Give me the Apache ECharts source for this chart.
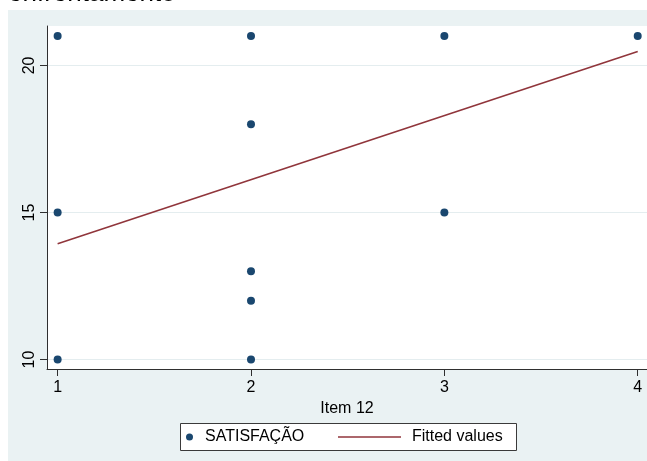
<!DOCTYPE html>
<html>
<head>
<meta charset="utf-8">
<script src="https://cdn.jsdelivr.net/npm/echarts@6/dist/echarts.min.js"></script>
<style>
  html, body { margin: 0; padding: 0; background: #ffffff; }
  #chart { width: 647px; height: 461px; }
</style>
</head>
<body>
<div id="chart"></div>
<script>
// Scatter of SATISFAÇÃO against Item 12 with a linear fit
const itemX = [1, 1, 1, 2, 2, 2, 2, 2, 3, 3, 4];
const satisfacao = [21, 15, 10, 21, 18, 13, 12, 10, 21, 15, 21];
const fitX = [1, 4];
const fitted = [13.94, 20.47];
const xTicks = [1, 2, 3, 4];
const yTicks = [10, 15, 20];

const FONT = "'Liberation Sans', Arial, sans-serif";
const NAVY = '#1a476f';
const MAROON = '#90353b';
const BG = '#eaf2f3';
const AXIS = '#2f2f2f';

const chart = echarts.init(document.getElementById('chart'), null, { renderer: 'canvas' });

const option = {
  animation: false,
  backgroundColor: '#ffffff',
  textStyle: { fontFamily: FONT },
  graphic: [
    { type: 'rect', z: -10, silent: true,
      shape: { x: 8, y: 10, width: 639, height: 451 },
      style: { fill: BG } },
    { type: 'text', z: 10, silent: true, x: 8, y: -6.3,
      style: { text: 'enfrentamento', font: '26px ' + FONT, fill: '#000000',
               verticalAlign: 'middle', align: 'left' } },
    { type: 'rect', z: 5, silent: true,
      shape: { x: 180.5, y: 423.5, width: 336, height: 27 },
      style: { fill: '#ffffff', stroke: '#3a3a3a', lineWidth: 1 } }
  ],
  grid: {
    left: 47, right: 0, top: 26, bottom: 92,
    show: true, backgroundColor: '#ffffff', borderWidth: 0
  },
  legend: [
    { data: ['SATISFAÇÃO'], left: 186, top: 429, padding: 0, z: 10,
      itemWidth: 7, itemHeight: 7, icon: 'circle',
      itemStyle: { color: NAVY, opacity: 1 },
      textStyle: { fontFamily: FONT, fontSize: 16, color: '#000', padding: [0, 0, 0, 7] } },
    { data: ['Fitted values'], left: 338, top: 429, padding: 0, z: 10,
      itemWidth: 63, itemHeight: 1.6, icon: 'rect',
      itemStyle: { color: MAROON, opacity: 1 },
      textStyle: { fontFamily: FONT, fontSize: 16, color: '#000', padding: [0, 0, 0, 6] } }
  ],
  xAxis: {
    type: 'value', min: 0.945, max: 4.048,
    name: 'Item 12', nameLocation: 'middle', nameGap: 26,
    nameTextStyle: { fontFamily: FONT, fontSize: 16, color: '#000' },
    axisLine: { show: true, lineStyle: { color: AXIS, width: 1 } },
    axisTick: { show: true, customValues: xTicks, length: 7, lineStyle: { color: AXIS } },
    axisLabel: { customValues: xTicks, margin: 11, fontFamily: FONT, fontSize: 16, color: '#000' },
    splitLine: { show: false }
  },
  yAxis: {
    type: 'value', min: 9.68, max: 21.34,
    axisLine: { show: true, lineStyle: { color: AXIS, width: 1 } },
    axisTick: { show: true, customValues: yTicks, length: 7, lineStyle: { color: AXIS } },
    axisLabel: { customValues: yTicks, rotate: 90, margin: 9, fontFamily: FONT, fontSize: 16, color: '#000' },
    splitLine: { show: false }
  },
  series: [
    {
      name: 'Fitted values', type: 'line',
      data: fitX.map((x, i) => [x, fitted[i]]),
      symbol: 'none', silent: true,
      lineStyle: { color: MAROON, width: 1.6 },
      itemStyle: { color: MAROON },
      markLine: {
        silent: true, symbol: 'none', z: 0,
        label: { show: false },
        lineStyle: { color: '#e4edef', width: 1, type: 'solid' },
        data: yTicks.map(v => ({ yAxis: v }))
      }
    },
    {
      name: 'SATISFAÇÃO', type: 'scatter',
      data: itemX.map((x, i) => [x, satisfacao[i]]),
      symbol: 'circle', symbolSize: 8,
      itemStyle: { color: NAVY, opacity: 1 }
    }
  ]
};

chart.setOption(option);
</script>
</body>
</html>
